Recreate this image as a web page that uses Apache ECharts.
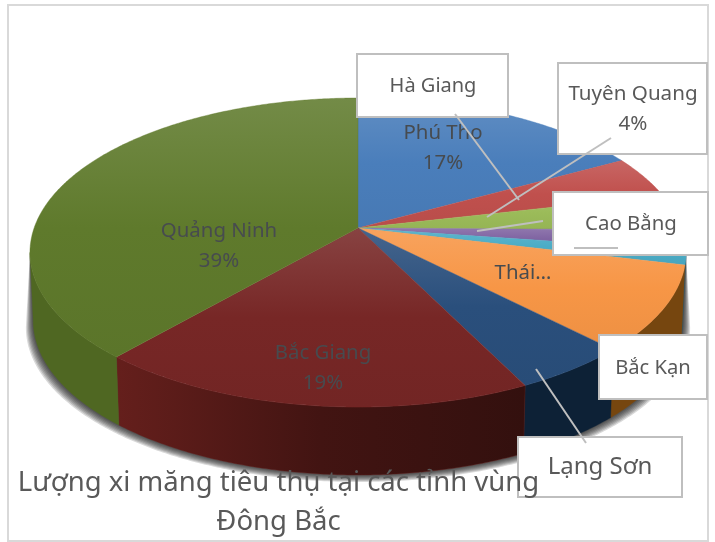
<!DOCTYPE html>
<html>
<head>
<meta charset="utf-8">
<style>
  html, body { margin: 0; padding: 0; background: #fff; }
  #chart { width: 715px; height: 542px; }
</style>
<script src="https://cdn.jsdelivr.net/npm/echarts@6/dist/echarts.min.js"></script>
</head>
<body>
<div id="chart"></div>
<script>
// data
const provinces = ['Phú Tho', 'Hà Giang', 'Tuyên Quang', 'Cao Bằng', 'Bắc Kạn', 'Thái…', 'Lạng Sơn', 'Bắc Giang', 'Quảng Ninh'];
const shares = [17, 4.4, 3.8, 2.1, 1.5, 8.9, 5, 18.7, 38.6];
const colors = ['#4a7ebb', '#c0504d', '#9bbb59', '#8064a2', '#4bacc6', '#f79646', '#2a4f7c', '#772726', '#5f7a2c'];
const sideColors = ['#254060', '#602826', '#4e5e2c', '#403251', '#25566c', '#76460f', '#0d2136', '#651f1c', '#4f6722'];
const titleLines = ['Lượng xi măng tiêu thụ tại các tỉnh vùng', 'Đông Bắc'];

// labels sitting on the pie: [x, y, show percent]
const faceLabels = {
  'Phú Tho': [443, 148, true],
  'Quảng Ninh': [219, 246, true],
  'Bắc Giang': [323, 368, true],
  'Thái…': [523, 273, false]
};
// white callouts: box [x0, y0, x1, y1], text centre, leader lines
const callouts = [
  { name: 'Hà Giang', size: 20, box: [357, 54, 508, 117], at: [433, 86], lines: [[455, 114, 519, 200]] },
  { name: 'Tuyên Quang', size: 20.6, box: [558, 63, 707, 154], at: [633, 109], percent: true, lines: [[611, 138, 487, 217]] },
  { name: 'Cao Bằng', size: 20.4, box: [553, 192, 708, 255], at: [631, 224], lines: [[543, 221, 477, 231], [574, 248, 618, 248]] },
  { name: 'Bắc Kạn', size: 20.2, box: [599, 335, 707, 399], at: [653, 368], lines: [] },
  { name: 'Lạng Sơn', size: 24, box: [518, 437, 682, 497], at: [600, 467], lines: [[536, 369, 586, 443]] }
];

const FONT = '"Noto Sans", sans-serif';
const total = shares.reduce((a, b) => a + b, 0);
const percentOf = name => Math.round(shares[provinces.indexOf(name)] / total * 100) + '%';

// perspective of the tilted disc
const APEX = [358, 228];
const PERSP = 0.1586, SCALE_X = 323.9, SCALE_Y = 150.6;
const DEPTH = 68, DEPTH_X = 0.99;
// the wall is only seen between the two side extremes of the ellipse
const WALL_FROM = 99.1, WALL_TO = 260.9;
const BAC_GIANG = provinces.indexOf('Bắc Giang');
const SHADOW_STEPS = 7;

function rim(deg) {
  const a = deg * Math.PI / 180;
  const w = 1 + PERSP * Math.cos(a);
  return [APEX[0] + SCALE_X * Math.sin(a) / w, APEX[1] - SCALE_Y * Math.cos(a) / w];
}
function lower(p, grow) {
  const g = grow || 0;
  return [APEX[0] + (p[0] - APEX[0]) * (DEPTH_X + g * 0.0032), p[1] + DEPTH + g];
}
function arc(from, to) {
  const pts = [];
  const n = Math.max(2, Math.ceil((to - from) * 2));
  for (let i = 0; i <= n; i++) pts.push(rim(from + (to - from) * i / n));
  return pts;
}
function sliceAngles(i) {
  let before = 0;
  for (let k = 0; k < i; k++) before += shares[k];
  return [before / total * 360, (before + shares[i]) / total * 360];
}
// echarts.color.lift only goes lighter, this one goes darker
function darken(hex, k) {
  const n = parseInt(hex.slice(1), 16);
  const ch = s => Math.round(((n >> s) & 255) * (1 - k));
  return 'rgb(' + ch(16) + ',' + ch(8) + ',' + ch(0) + ')';
}

function renderTop(params) {
  const i = params.dataIndex;
  const [from, to] = sliceAngles(i);
  const c = colors[i];
  return {
    type: 'polygon',
    shape: { points: [APEX].concat(arc(from, to)) },
    style: {
      fill: {
        type: 'linear', x: 0, y: 0, x2: 0, y2: 1,
        colorStops: [
          { offset: 0, color: echarts.color.lift(c, 0.13) },
          { offset: 0.5, color: c },
          { offset: 1, color: darken(c, 0.04) }
        ]
      },
      stroke: c,
      lineWidth: 0.4
    }
  };
}

function renderWall(params) {
  const i = params.dataIndex;
  let [from, to] = sliceAngles(i);
  from = Math.max(from, WALL_FROM);
  to = Math.min(to, WALL_TO);
  if (to <= from) return null;
  const top = arc(from, to);
  const c = sideColors[i];
  // the big red wall runs dark towards the middle of the pie
  const stops = i === BAC_GIANG
    ? [{ offset: 0, color: c }, { offset: 0.5, color: darken(c, 0.35) }, { offset: 1, color: darken(c, 0.5) }]
    : [{ offset: 0, color: c }, { offset: 1, color: c }];
  return {
    type: 'polygon',
    shape: { points: top.concat(top.map(p => lower(p)).reverse()) },
    style: {
      fill: { type: 'linear', x: 0, y: 0, x2: 1, y2: 0, colorStops: stops },
      stroke: c,
      lineWidth: 0.4
    }
  };
}

// soft shadow under the whole wall, stacked thin layers
function renderShadow() {
  const top = arc(WALL_FROM, WALL_TO);
  const layers = [];
  for (let s = SHADOW_STEPS; s >= 1; s--) {
    layers.push({
      type: 'polygon',
      shape: { points: top.concat(top.map(p => lower(p, s)).reverse()) },
      style: { fill: 'rgba(20,20,20,0.16)' }
    });
  }
  return { type: 'group', children: layers };
}

const faceText = Object.keys(faceLabels).map(name => {
  const [x, y, pct] = faceLabels[name];
  return {
    type: 'text', x: x, y: y, z: 4,
    style: {
      text: pct ? name + '\n' + percentOf(name) : name,
      font: '20.4px ' + FONT, lineHeight: 30, fill: '#474b4f',
      align: 'center', verticalAlign: 'middle'
    }
  };
});

const boxes = [];
callouts.forEach(c => {
  boxes.push({
    type: 'rect', z: 5,
    shape: { x: c.box[0], y: c.box[1], width: c.box[2] - c.box[0], height: c.box[3] - c.box[1] },
    style: { fill: '#fff', stroke: '#bfbfbf', lineWidth: 2 }
  });
});
callouts.forEach(c => {
  boxes.push({
    type: 'text', x: c.at[0], y: c.at[1], z: 5,
    style: {
      text: c.percent ? c.name + '\n' + percentOf(c.name) : c.name,
      font: c.size + 'px ' + FONT, lineHeight: 30, fill: '#595959',
      align: 'center', verticalAlign: 'middle'
    }
  });
  c.lines.forEach(l => {
    boxes.push({
      type: 'line', z: 5,
      shape: { x1: l[0], y1: l[1], x2: l[2], y2: l[3] },
      style: { stroke: '#bfbfbf', lineWidth: 2 }
    });
  });
});

const frame = {
  type: 'rect', z: 0,
  shape: { x: 8, y: 5, width: 700, height: 536 },
  style: { fill: 'none', stroke: '#d9d9d9', lineWidth: 2 }
};

const seriesData = provinces.map((name, i) => ({ name: name, value: shares[i] }));

const chart = echarts.init(document.getElementById('chart'), null, { renderer: 'canvas' });
chart.setOption({
  animation: false,
  backgroundColor: '#fff',
  title: {
    text: titleLines.join('\n'),
    left: 273.5, top: 459, textAlign: 'center', z: 8,
    textStyle: { fontFamily: FONT, fontWeight: 'normal', fontSize: 27.5, lineHeight: 39, color: '#595959' }
  },
  graphic: { elements: [frame].concat(faceText, boxes) },
  series: [
    { type: 'custom', coordinateSystem: 'none', z: 1, data: [0], renderItem: renderShadow, silent: true },
    { type: 'custom', coordinateSystem: 'none', z: 2, data: seriesData, renderItem: renderWall, silent: true },
    { type: 'custom', coordinateSystem: 'none', z: 3, data: seriesData, renderItem: renderTop, silent: true }
  ]
});
</script>
</body>
</html>
